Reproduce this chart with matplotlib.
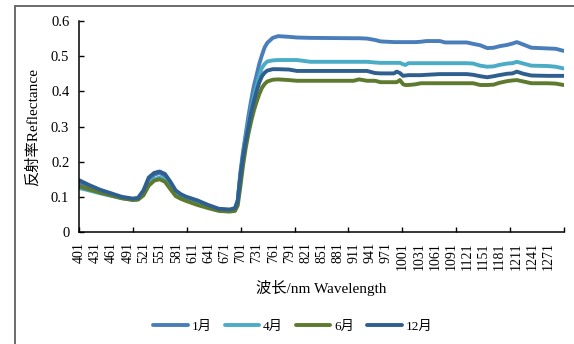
import matplotlib
matplotlib.use("Agg")
import matplotlib.pyplot as plt
from matplotlib.lines import Line2D
import numpy as np

plt.rcParams['font.family'] = ['Liberation Serif', 'Noto Sans CJK SC']

# sampled wavelengths (nm) along the category axis 401..1300
wavelength = [401, 420, 440, 460, 480, 500, 510, 520, 530, 540, 550, 560, 570, 580, 590, 600,
              620, 640, 660, 680, 690, 695, 700, 705, 710, 715, 720, 725, 730, 735, 740, 745,
              750, 760, 770, 790, 805, 830, 910, 920, 935, 950, 960, 985, 990, 996, 1002, 1006,
              1012, 1025, 1035, 1045, 1070, 1080, 1120, 1132, 1145, 1158, 1170, 1180, 1195,
              1205, 1213, 1225, 1240, 1270, 1285, 1300]

jan = [0.140, 0.128, 0.117, 0.107, 0.098, 0.093, 0.094, 0.110, 0.148, 0.163, 0.168, 0.160, 0.138, 0.114, 0.103, 0.097,
       0.086, 0.074, 0.064, 0.062, 0.066, 0.090, 0.170, 0.230, 0.280, 0.330, 0.375, 0.415, 0.446, 0.478, 0.503, 0.525,
       0.538, 0.552, 0.557, 0.555, 0.553, 0.552, 0.551, 0.551, 0.550, 0.546, 0.542, 0.540, 0.540, 0.540, 0.540, 0.540,
       0.540, 0.540, 0.541, 0.543, 0.543, 0.539, 0.539, 0.535, 0.531, 0.523, 0.524, 0.528, 0.532,
       0.536, 0.540, 0.533, 0.524, 0.522, 0.521, 0.515]

apr = [0.125, 0.118, 0.110, 0.103, 0.096, 0.092, 0.093, 0.108, 0.138, 0.150, 0.155, 0.148, 0.130, 0.108, 0.099, 0.094,
       0.085, 0.072, 0.062, 0.061, 0.064, 0.085, 0.160, 0.220, 0.270, 0.310, 0.350, 0.385, 0.415, 0.445, 0.467, 0.478,
       0.485, 0.488, 0.489, 0.489, 0.489, 0.484, 0.484, 0.484, 0.484, 0.482, 0.481, 0.481, 0.481, 0.481, 0.477, 0.475,
       0.480, 0.480, 0.480, 0.480, 0.480, 0.480, 0.480, 0.479, 0.473, 0.470, 0.471, 0.475, 0.479,
       0.480, 0.484, 0.479, 0.473, 0.472, 0.470, 0.465]

jun = [0.130, 0.121, 0.112, 0.104, 0.096, 0.091, 0.092, 0.104, 0.132, 0.146, 0.150, 0.143, 0.122, 0.102, 0.094, 0.088,
       0.077, 0.068, 0.060, 0.058, 0.060, 0.075, 0.130, 0.190, 0.240, 0.280, 0.315, 0.345, 0.370, 0.392, 0.410, 0.421,
       0.428, 0.433, 0.434, 0.432, 0.430, 0.430, 0.430, 0.434, 0.430, 0.430, 0.426, 0.426, 0.426, 0.432, 0.420, 0.418,
       0.418, 0.420, 0.423, 0.423, 0.423, 0.423, 0.423, 0.423, 0.418, 0.418, 0.419, 0.424, 0.429,
       0.431, 0.432, 0.428, 0.423, 0.423, 0.422, 0.418]

dec = [0.147, 0.133, 0.120, 0.110, 0.100, 0.095, 0.097, 0.118, 0.155, 0.168, 0.172, 0.165, 0.143, 0.118, 0.107, 0.100,
       0.090, 0.077, 0.066, 0.064, 0.068, 0.088, 0.160, 0.215, 0.260, 0.300, 0.340, 0.372, 0.400, 0.425, 0.443, 0.453,
       0.459, 0.463, 0.463, 0.462, 0.458, 0.458, 0.458, 0.458, 0.458, 0.452, 0.451, 0.451, 0.456, 0.452, 0.444, 0.445,
       0.446, 0.446, 0.446, 0.447, 0.449, 0.449, 0.449, 0.447, 0.443, 0.440, 0.443, 0.446, 0.450,
       0.451, 0.456, 0.450, 0.445, 0.444, 0.444, 0.444]

series_names = ['1月', '4月', '6月', '12月']
series_colors = ['#4a7ebb', '#4bacc6', '#5e7a2e', '#2f5f8f']
series_values = [jan, apr, jun, dec]

tick_labels = [str(v) for v in range(401, 1300, 30)]
y_ticks = [0, 0.1, 0.2, 0.3, 0.4, 0.5, 0.6]

fig = plt.figure(figsize=(5.74, 3.44), dpi=100)
ax = fig.add_axes([79/574, 1-232/344, (564-79)/574, (232-21)/344])

for name, col, vals in zip(series_names, series_colors, series_values):
    ax.plot(wavelength, vals, color=col, lw=2.8, label=name, solid_capstyle='round',
            solid_joinstyle='round')

ax.set_xlim(400.5, 1300.5)
ax.set_ylim(0, 0.6)
ax.set_yticks(y_ticks)
ax.set_yticklabels(['0', '0.1', '0.2', '0.3', '0.4', '0.5', '0.6'], fontsize=10.5)

ax.set_xticks(np.arange(400.5, 1301, 100))
ax.set_xticklabels([])
ax.set_xticks([int(t) for t in tick_labels], minor=True)
ax.set_xticklabels(tick_labels, minor=True, rotation=90, fontsize=10)
ax.tick_params(axis='x', which='major', direction='in', length=3.5, width=1)
ax.tick_params(axis='x', which='minor', length=0, pad=7.5)
ax.tick_params(axis='y', direction='in', length=3.5, width=1, pad=7)

for s in ['top', 'right']:
    ax.spines[s].set_visible(False)
for s in ['left', 'bottom']:
    ax.spines[s].set_linewidth(1.1)

ax.set_ylabel('反射率Reflectance', fontsize=11, labelpad=8)
ax.set_xlabel('波长/nm Wavelength', fontsize=11, labelpad=7)

leg = fig.legend(loc='center', bbox_to_anchor=(0.51, 0.05), ncol=4, frameon=False,
                 fontsize=9.5, handlelength=2.6, handletextpad=0.3, columnspacing=1.0)

# outer chart-area border (top and left edges visible in the crop)
bx = 14.5 / 574
by = 1 - 5.5 / 344
fig.add_artist(Line2D([bx, 1.0], [by, by], transform=fig.transFigure,
                      color='#6b6b6b', lw=1.4))
fig.add_artist(Line2D([bx, bx], [0.0, by], transform=fig.transFigure,
                      color='#6b6b6b', lw=1.4))

fig.savefig('out.png', dpi=100)
